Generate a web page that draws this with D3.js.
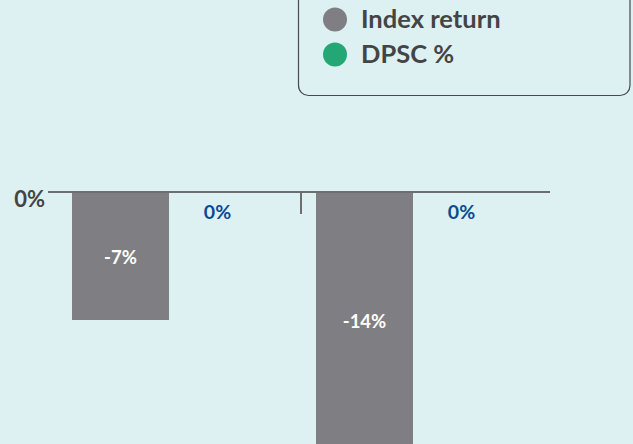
<!DOCTYPE html>
<html>
<head>
<meta charset="utf-8">
<script src="https://cdn.jsdelivr.net/npm/d3@7"></script>
<style>
  html, body { margin: 0; padding: 0; background: #ddf0f2; }
  svg { display: block; font-family: Lato, "Open Sans", sans-serif; }
</style>
</head>
<body>
<div id="chart"></div>
<script>
// Data
const categories = ["Period A", "Period B"];
const seriesNames = ["Index return", "DPSC %"];
const indexReturn = [-7, -14];
const dpsc = [0, 0];
const yTicks = [0];

const width = 633;
const height = 444;

const colors = {"Index return": "#7f7f83", "DPSC %": "#23a875"};

const svg = d3.select("#chart")
  .append("svg")
  .attr("width", width)
  .attr("height", height);

svg.append("rect")
  .attr("width", width)
  .attr("height", height)
  .attr("fill", "#ddf0f2");

// Flatten to rows
const rows = categories.flatMap((cat, i) => [
  {cat, key: "Index return", value: indexReturn[i]},
  {cat, key: "DPSC %", value: dpsc[i]}
]);

// Scales
const xScale = d3.scaleBand()
  .domain(categories)
  .range([48, 536])
  .padding(0);

const xSub = d3.scaleBand()
  .domain(seriesNames)
  .range([24, 218])
  .padding(0);

const yScale = d3.scaleLinear()
  .domain([0, -14])
  .range([192, 448]);

// Bars
const groups = svg.append("g")
  .selectAll("g")
  .data(d3.group(rows, d => d.cat))
  .join("g")
  .attr("transform", ([cat]) => `translate(${xScale(cat)},0)`);

groups.selectAll("rect")
  .data(([, d]) => d)
  .join("rect")
  .attr("x", d => xSub(d.key))
  .attr("y", d => Math.min(yScale(0), yScale(d.value)))
  .attr("width", xSub.bandwidth())
  .attr("height", d => Math.abs(yScale(d.value) - yScale(0)))
  .attr("fill", d => colors[d.key]);

// Value labels
groups.selectAll("text")
  .data(([, d]) => d)
  .join("text")
  .attr("x", d => xSub(d.key) + xSub.bandwidth() / 2)
  .attr("y", d => d.value === 0 ? yScale(0) + 27 : (yScale(0) + yScale(d.value)) / 2 + 8)
  .attr("text-anchor", "middle")
  .attr("font-size", d => d.value === 0 ? 19.5 : 18.5)
  .attr("font-weight", 700)
  .attr("fill", d => d.value === 0 ? "#0b4a92" : "#ffffff")
  .text(d => d.value + "%");

// Zero line + divider tick
const axisLeft = 48, axisRight = 550;
svg.append("line")
  .attr("x1", axisLeft)
  .attr("x2", axisRight)
  .attr("y1", yScale(0))
  .attr("y2", yScale(0))
  .attr("stroke", "#6e6e70")
  .attr("stroke-width", 2);

svg.append("line")
  .attr("x1", (axisLeft + axisRight) / 2 + 2)
  .attr("x2", (axisLeft + axisRight) / 2 + 2)
  .attr("y1", yScale(0))
  .attr("y2", yScale(0) + 22)
  .attr("stroke", "#6e6e70")
  .attr("stroke-width", 2);

// Y tick label
svg.selectAll(".ytick")
  .data(yTicks)
  .join("text")
  .attr("class", "ytick")
  .attr("x", 45)
  .attr("y", d => yScale(d) + 15)
  .attr("text-anchor", "end")
  .attr("font-size", 22)
  .attr("font-weight", 700)
  .attr("fill", "#444444")
  .text(d => d + "%");

// Legend
const legend = svg.append("g");
legend.append("rect")
  .attr("x", 298.5)
  .attr("y", -20)
  .attr("width", 331.5)
  .attr("height", 115.5)
  .attr("rx", 10)
  .attr("fill", "none")
  .attr("stroke", "#4a4a4a")
  .attr("stroke-width", 1.2);

const legendRow = legend.selectAll("g")
  .data(seriesNames)
  .join("g")
  .attr("transform", (_, i) => `translate(335,${19.5 + i * 35})`);

legendRow.append("circle")
  .attr("r", 12)
  .attr("fill", d => colors[d]);

legendRow.append("text")
  .attr("x", 26)
  .attr("y", 8.5)
  .attr("font-size", 25.5)
  .attr("font-weight", 700)
  .attr("fill", "#444444")
  .text(d => d);
</script>
</body>
</html>
